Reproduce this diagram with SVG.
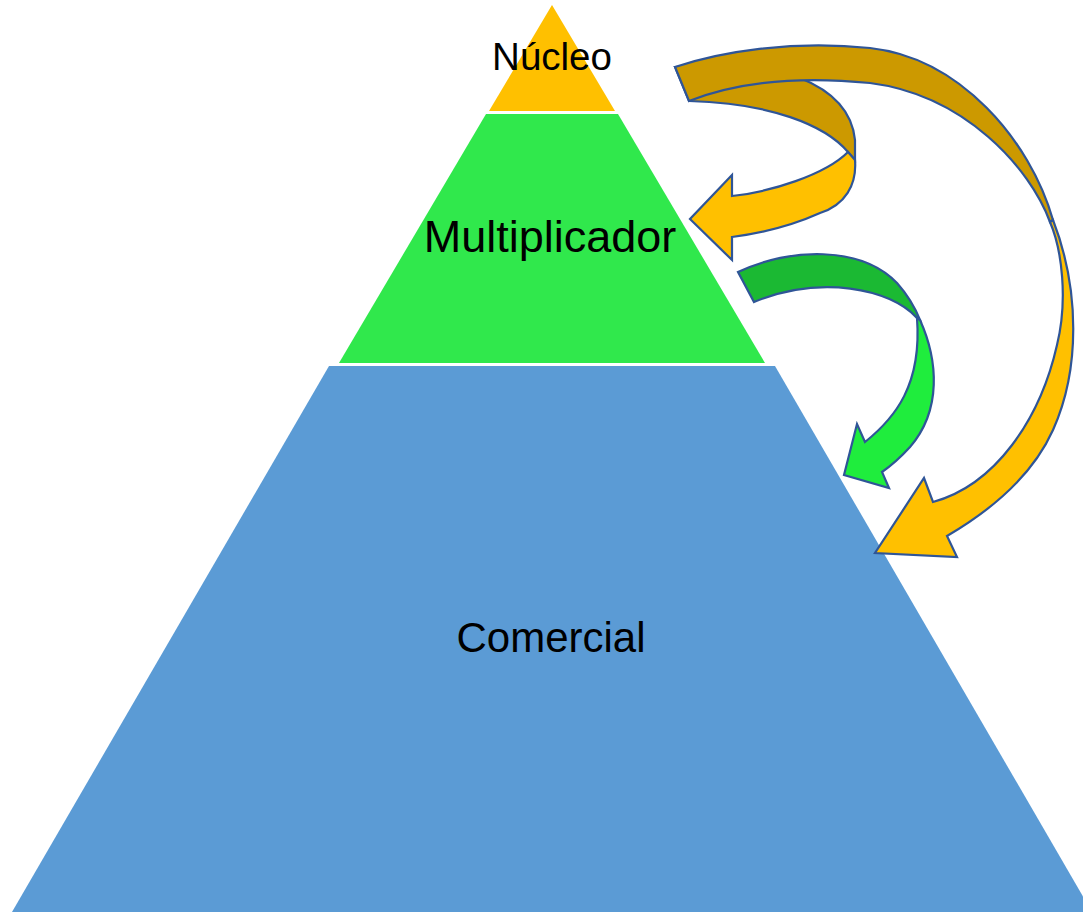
<svg xmlns="http://www.w3.org/2000/svg" width="1083" height="912" viewBox="0 0 1083 912">
  <style>
    .lbl { font-family: "Liberation Sans", Arial, sans-serif; fill: #000; text-anchor: middle; }
    .arr { stroke: #2F5597; stroke-width: 2.2; stroke-linejoin: miter; }
    .goldBack { fill: #CC9900; }
    .goldFront { fill: #FFC000; }
    .greenBack { fill: #1BB933; }
    .greenFront { fill: #1FED3D; }
  </style>
  <rect width="1083" height="912" fill="#FFFFFF"/>
  <g id="nucleo">
    <polygon points="552,5 615,111 489,111" fill="#FFC000"/>
    <text class="lbl" x="552" y="70" font-size="38.5">Núcleo</text>
  </g>
  <g id="multiplicador">
    <polygon points="486,114 618,114 765,363 339,363" fill="#30E84C"/>
    <text class="lbl" x="550" y="252" font-size="45">Multiplicador</text>
  </g>
  <g id="comercial">
    <polygon points="329,366 775,366 1092,912 12,912" fill="#5B9BD5"/>
    <text class="lbl" x="551" y="652" font-size="42">Comercial</text>
  </g>
  <g id="connectors">
    <g id="arrow-nucleo-multiplicador">
      <path class="arr goldBack" d="M 675,67 C 720,62 770,66 800,78 C 830,90 852,110 855,140 L 855,160 L 848,152 C 825,125 770,103 689,101 Z"/>
      <path class="arr goldFront" d="M 855,160 C 857,185 845,205 820,213 C 800,222 770,232 732,237 L 732,260 L 690,219 L 732,175 L 732,196 C 770,192 825,175 848,152 Z"/>
    </g>
    <g id="arrow-nucleo-comercial">
      <path class="arr goldBack" d="M 675,67 C 720,52 790,40 870,48 C 960,58 1030,140 1053,220 L 1050,222 C 1030,168 965,95 870,83 C 790,75 730,85 689,101 Z"/>
      <path class="arr goldFront" d="M 1053,220 C 1080,290 1080,370 1053,430 C 1035,470 1000,505 947,536 L 957,557 L 875,553 L 924,478 L 933,502 C 995,485 1040,420 1057,345 C 1068,300 1062,250 1050,222 Z"/>
    </g>
    <g id="arrow-multiplicador-comercial">
      <path class="arr greenBack" d="M 738,272 C 790,248 860,245 897,283 C 905,292 914,305 920,320 L 917,318 C 890,288 820,275 754,302 Z"/>
      <path class="arr greenFront" d="M 920,320 C 938,360 942,410 910,447 C 900,458 892,465 882,472 L 889,488 L 844,475 L 857,424 L 865,442 C 895,418 922,385 917,318 Z"/>
    </g>
  </g>
</svg>
